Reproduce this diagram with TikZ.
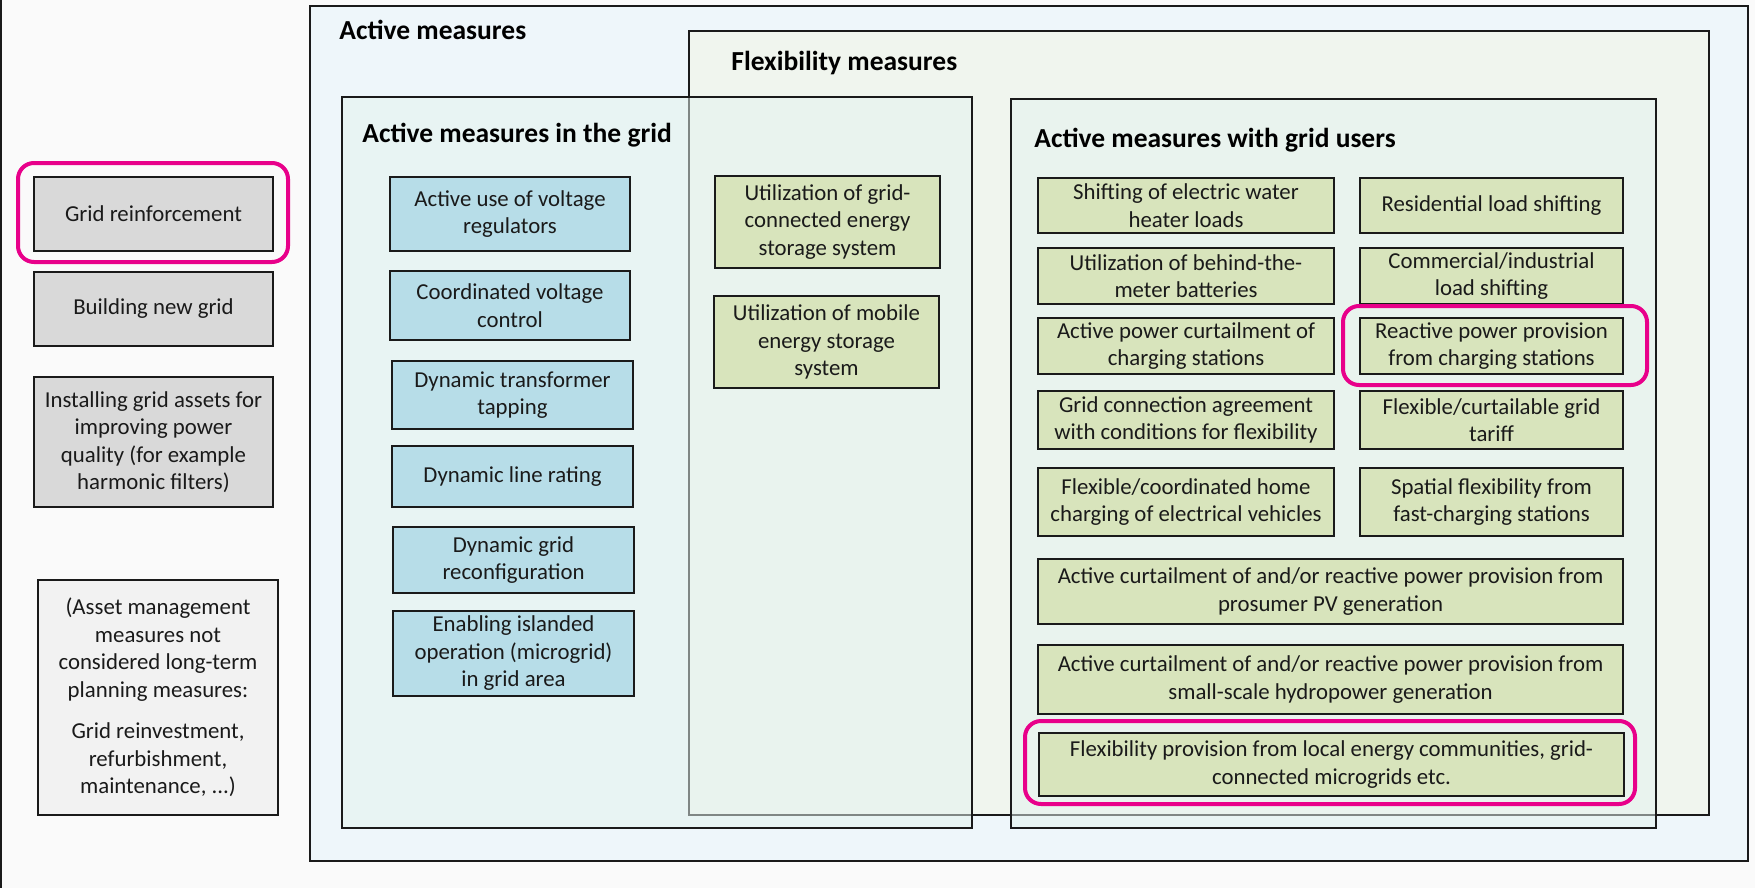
\documentclass[tikz,border=0pt]{standalone}
\usepackage{fontspec}
\setmainfont{Carlito}
\usetikzlibrary{fit}

\definecolor{pagebg}{HTML}{FAFAFA}
\definecolor{activefill}{HTML}{EEF6FA}
\definecolor{flexfill}{HTML}{F0F5EE}
\definecolor{innerfill}{HTML}{E4F3EE}
\definecolor{greyfill}{HTML}{D9D9D9}
\definecolor{notefill}{HTML}{F2F2F2}
\definecolor{bluefill}{HTML}{B7DDE8}
\definecolor{greenfill}{HTML}{D8E4BC}
\definecolor{hilite}{HTML}{E8008A}
\definecolor{ink}{HTML}{1A1A1A}

\tikzset{
  container/.style={draw=ink, line width=0.7pt, inner sep=0pt},
  mbox/.style={draw=ink, line width=0.9pt, inner sep=0pt, align=center, text=ink,
    font=\fontsize{11.4}{13.75}\selectfont},
  greybox/.style={mbox, fill=greyfill},
  notebox/.style={mbox, fill=notefill},
  bluebox/.style={mbox, fill=bluefill},
  greenbox/.style={mbox, fill=greenfill},
  heading/.style={anchor=base west, inner sep=0pt, text=black,
    font=\fontsize{13.75}{16}\selectfont\bfseries},
  hl/.style={draw=hilite, line width=2pt, rounded corners=8pt, inner sep=0pt},
}

% box given by its corners (x1,y1) and (x2,y2), in pixel units
\newcommand\mkbox[7]{%
  \node[#2, minimum width={(#5-#3)*0.5pt}, minimum height={(#6-#4)*0.5pt}]
    (#1) at ({(#3+#5)/2},{(#4+#6)/2}) {#7};}

\begin{document}
\begin{tikzpicture}[x=0.5pt, y=-0.5pt]
  % page
  \fill[pagebg] (0,0) rectangle (1755,888);
  \useasboundingbox (0,0) rectangle (1755,888);
  \draw[ink, line width=1pt] (1,0) -- (1,888);

  % nested groups
  \node[container, fill=activefill, fit={(310,6)(1748,861)}] (active) {};
  \node[container, fill=flexfill, fit={(689,31)(1709,815)}] (flex) {};
  \node[container, fill=innerfill, fill opacity=0.5, fit={(342,97)(972,828)}] (ingrid) {};
  \node[container, fill=innerfill, fill opacity=0.5, fit={(1011,99)(1656,828)}] (users) {};

  \node[heading] (tActive) at (339,39.5) {Active measures};
  \node[heading] (tFlex) at (731,71) {Flexibility measures};
  \node[heading] (tGrid) at (362,142) {Active measures in the grid};
  \node[heading] (tUsers) at (1034,148) {Active measures with grid users};

  % conventional measures
  \mkbox{reinf}{greybox}{34}{177}{273}{251}{Grid reinforcement}
  \mkbox{newgrid}{greybox}{34}{272}{273}{346}{Building new grid}
  \mkbox{assets}{greybox}{34}{377}{273}{507}{Installing grid assets for\\improving power\\quality (for example\\harmonic filters)}
  \mkbox{note}{notebox}{38}{580}{278}{815}{(Asset management\\measures not\\considered long-term\\planning measures:\\[7pt]Grid reinvestment,\\refurbishment,\\maintenance, ...)}

  % active measures in the grid
  \mkbox{b1}{bluebox}{390}{177}{630}{251}{Active use of voltage\\regulators}
  \mkbox{b2}{bluebox}{390}{271}{630}{340}{Coordinated voltage\\control}
  \mkbox{b3}{bluebox}{392}{361}{633}{429}{Dynamic transformer\\tapping}
  \mkbox{b4}{bluebox}{392}{446}{633}{507}{Dynamic line rating}
  \mkbox{b5}{bluebox}{393}{527}{634}{593}{Dynamic grid\\reconfiguration}
  \mkbox{b6}{bluebox}{393}{611}{634}{696}{Enabling islanded\\operation (microgrid)\\in grid area}

  % storage
  \mkbox{f1}{greenbox}{715}{176}{940}{268}{Utilization of grid-\\connected energy\\storage system}
  \mkbox{f2}{greenbox}{714}{296}{939}{388}{Utilization of mobile\\energy storage\\system}

  % active measures with grid users
  \mkbox{u1}{greenbox}{1038}{178}{1334}{233}{Shifting of electric water\\heater loads}
  \mkbox{u2}{greenbox}{1360}{178}{1623}{233}{Residential load shifting}
  \mkbox{u3}{greenbox}{1038}{248}{1334}{304}{Utilization of behind-the-\\meter batteries}
  \mkbox{u4}{greenbox}{1360}{248}{1623}{304}{Commercial/industrial\\load shifting}
  \mkbox{u5}{greenbox}{1038}{318}{1334}{374}{Active power curtailment of\\charging stations}
  \mkbox{u6}{greenbox}{1360}{318}{1623}{374}{Reactive power provision\\from charging stations}
  \mkbox{u7}{greenbox}{1038}{391}{1334}{449}{Grid connection agreement\\with conditions for flexibility}
  \mkbox{u8}{greenbox}{1360}{391}{1623}{449}{Flexible/curtailable grid\\tariff}
  \mkbox{u9}{greenbox}{1038}{468}{1334}{536}{Flexible/coordinated home\\charging of electrical vehicles}
  \mkbox{u10}{greenbox}{1360}{468}{1623}{536}{Spatial flexibility from\\fast-charging stations}
  \mkbox{u11}{greenbox}{1038}{559}{1623}{624}{Active curtailment of and/or reactive power provision from\\prosumer PV generation}
  \mkbox{u12}{greenbox}{1038}{645}{1623}{714}{Active curtailment of and/or reactive power provision from\\small-scale hydropower generation}
  \mkbox{u13}{greenbox}{1039}{733}{1624}{796}{Flexibility provision from local energy communities, grid-\\connected microgrids etc.}

  % highlighted measures
  \node[hl, fit={(18,163)(288,262)}] (hl1) {};
  \node[hl, fit={(1343,306)(1647,385)}] (hl2) {};
  \node[hl, fit={(1025,721)(1635,804)}] (hl3) {};
\end{tikzpicture}
\end{document}
